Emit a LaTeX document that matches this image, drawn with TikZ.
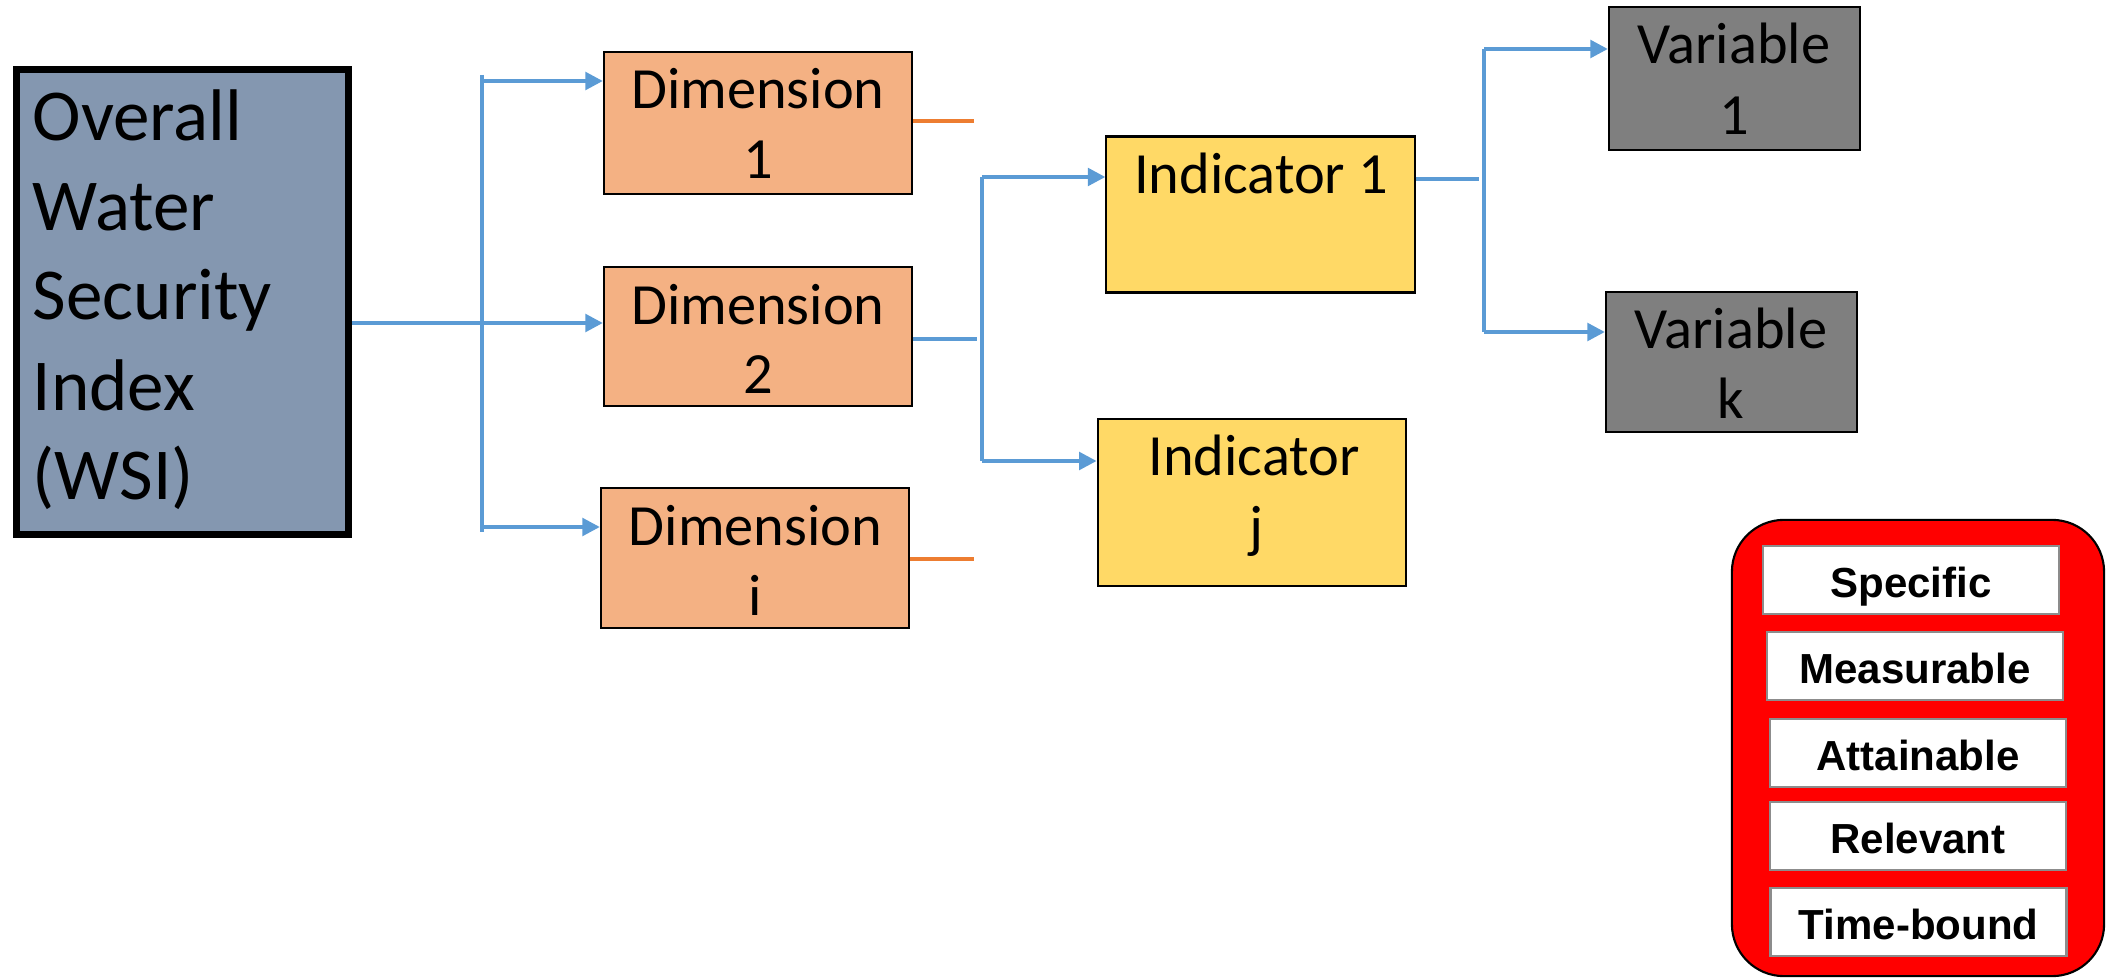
\documentclass[tikz,border=0pt]{standalone}
\usepackage{fontspec}
\setmainfont{Carlito}
\newfontfamily\smartfont{Liberation Sans}
\usetikzlibrary{arrows.meta}
\definecolor{wsiblue}{HTML}{8497B0}
\definecolor{dimorange}{HTML}{F4B183}
\definecolor{indyellow}{HTML}{FFD966}
\definecolor{vargray}{HTML}{7F7F7F}
\definecolor{connblue}{HTML}{5B9BD5}
\definecolor{stuborange}{HTML}{ED7D31}
\definecolor{smartred}{HTML}{FF0000}
\definecolor{itemborder}{HTML}{8C8C8C}
\tikzset{
  boxbase/.style={rectangle, draw=black, line width=0.6pt, inner sep=0pt},
  wsibox/.style={rectangle, draw=black, line width=2pt, fill=wsiblue, inner sep=0pt},
  dimbox/.style={boxbase, fill=dimorange, minimum width=3.08cm},
  indbox/.style={boxbase, fill=indyellow, minimum width=3.08cm},
  varbox/.style={boxbase, fill=vargray, minimum width=2.51cm},
  lbl/.style={anchor=base, inner sep=0pt, font=\fontsize{16.6pt}{20pt}\selectfont},
  wsilbl/.style={anchor=base west, inner sep=0pt, font=\fontsize{20.8pt}{25pt}\selectfont},
  conn/.style={draw=connblue, line width=1.1pt},
  arr/.style={conn, -{Triangle[length=5pt,width=5pt]}},
  stub/.style={draw=stuborange, line width=1.1pt},
  smartframe/.style={rectangle, draw=black, line width=0.6pt, fill=smartred, rounded corners=0.52cm, inner sep=0pt},
  smartitem/.style={rectangle, draw=itemborder, fill=white, line width=0.7pt, minimum width=2.96cm, minimum height=0.68cm, inner sep=0pt,
    font=\smartfont\bfseries\fontsize{11.95pt}{14pt}\selectfont, text height=9.7pt, text depth=0pt},
}
\begin{document}
\begin{tikzpicture}[x=0.01cm,y=-0.01cm]
\useasboundingbox (0,0) rectangle (2111,979);

% WSI box
\node[wsibox, minimum width=3.32cm, minimum height=4.645cm] (wsi) at (182.5,302.25) {};
\node[wsilbl] (w1) at (32,141) {Overall};
\node[wsilbl] (w2) at (32,231) {Water};
\node[wsilbl] (w3) at (32,320) {Security};
\node[wsilbl] (w4) at (32,410) {Index};
\node[wsilbl] (w5) at (32,499) {(WSI)};

% Dimensions
\node[dimbox, minimum height=1.42cm] (dim1) at (758,123) {};
\node[lbl] (dim1a) at (758,109) {Dimension};
\node[lbl] (dim1b) at (758,179) {1};
\node[dimbox, minimum height=1.39cm] (dim2) at (758,336.5) {};
\node[lbl] (dim2a) at (758,324) {Dimension};
\node[lbl] (dim2b) at (758,393.6) {2};
\node[dimbox, minimum height=1.40cm] (dimi) at (755,558) {};
\node[lbl] (dimia) at (755.5,545.5) {Dimension};
\node[lbl] (dimib) at (755.5,615.5) {i};

% Indicators
\node[indbox, minimum height=1.56cm] (ind1) at (1260.5,214.5) {};
\node[lbl] (ind1a) at (1261,193.8) {Indicator 1};
\node[indbox, minimum width=3.085cm, minimum height=1.67cm] (indj) at (1252,502.5) {};
\node[lbl] (indja) at (1254,475.8) {Indicator};
\node[lbl] (indjb) at (1256,546) {j};

% Variables
\node[varbox, minimum height=1.43cm] (var1) at (1734.5,78.5) {};
\node[lbl] (var1a) at (1734,64) {Variable};
\node[lbl] (var1b) at (1734,135) {1};
\node[varbox, minimum height=1.40cm] (vark) at (1731.5,362) {};
\node[lbl] (varka) at (1731,349) {Variable};
\node[lbl] (varkb) at (1731,419) {k};

% SMART frame
\node[smartframe, minimum width=3.72cm, minimum height=4.56cm] (smart) at (1918,748) {};
\node[smartitem] (s1) at (1911,580) {Specific};
\node[smartitem] (s2) at (1915,666) {Measurable};
\node[smartitem] (s3) at (1918,753) {Attainable};
\node[smartitem] (s4) at (1918,836) {Relevant};
\node[smartitem] (s5) at (1918.5,922) {Time-bound};

% Connectors WSI -> dimensions
\coordinate (busA1) at (482,75);
\coordinate (busA2) at (482,532);
\draw[conn] (busA1) -- (busA2);
\draw[arr] (wsi.east |- 0,323) -- (dim2.west |- 0,323);
\draw[arr] (482,81) -- (dim1.west |- 0,81);
\draw[arr] (482,527) -- (dimi.west |- 0,527);

% orange stubs
\coordinate (st1) at (974,121);
\coordinate (st2) at (974,559);
\draw[stub] (dim1.east |- st1) -- (st1);
\draw[stub] (dimi.east |- st2) -- (st2);

% Dimension 2 -> indicators
\coordinate (d2end) at (977,339);
\draw[conn] (dim2.east |- d2end) -- (d2end);
\coordinate (busB1) at (982,177);
\coordinate (busB2) at (982,461);
\draw[conn] (busB1) -- (busB2);
\draw[arr] (busB1) -- (ind1.west |- busB1);
\draw[arr] (busB2) -- (indj.west |- busB2);

% Indicator 1 -> variables
\coordinate (i1end) at (1479,179);
\draw[conn] (ind1.east |- i1end) -- (i1end);
\coordinate (busC1) at (1484,49);
\coordinate (busC2) at (1484,332);
\draw[conn] (busC1) -- (busC2);
\draw[arr] (busC1) -- (var1.west |- busC1);
\draw[arr] (busC2) -- (vark.west |- busC2);
\end{tikzpicture}
\end{document}
